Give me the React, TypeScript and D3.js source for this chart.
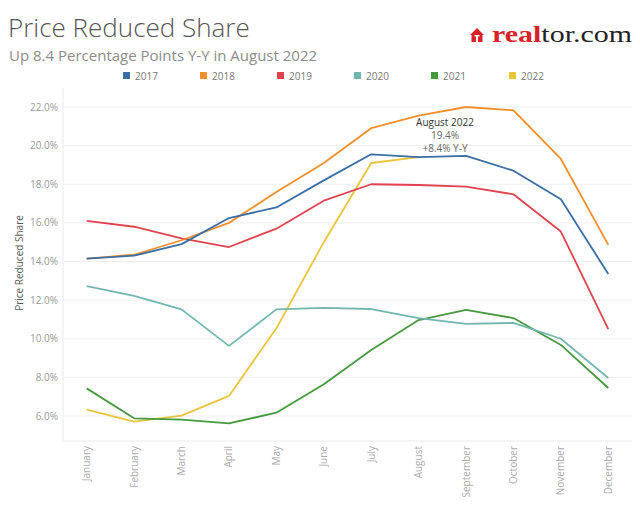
import React from "react";
import * as d3 from "d3";

const months = ["January","February","March","April","May","June","July","August","September","October","November","December"];
const years = ["2017","2018","2019","2020","2021","2022"];
const colors = ["#3a6ea5","#f28e2b","#e0434f","#72b6b0","#46993f","#e9c53b"];
const v2017 = [14.15,14.3,14.9,16.25,16.8,18.2,19.55,19.4,19.47,18.7,17.22,13.35];
const v2018 = [14.15,14.35,15.1,16.0,17.6,19.1,20.9,21.55,22.0,21.83,19.31,14.86];
const v2019 = [16.1,15.8,15.2,14.75,15.7,17.15,18.0,17.96,17.88,17.48,15.55,10.5];
const v2020 = [12.72,12.22,11.52,9.63,11.52,11.6,11.54,11.07,10.77,10.82,10.0,7.97];
const v2021 = [7.43,5.88,5.81,5.62,6.17,7.64,9.42,10.97,11.49,11.07,9.68,7.45];
const v2022 = [6.33,5.71,6.02,7.04,10.54,15.0,19.1,19.4];
const series = [v2017,v2018,v2019,v2020,v2021,v2022];
const yTicks = [6,8,10,12,14,16,18,20,22];
const annotation = ["August 2022","19.4%","+8.4% Y-Y"];

const W = 640, H = 512;
const left = 63, right = 632, top = 88, bottom = 441;

export default function App() {
  const x = d3.scalePoint<string>().domain(months).range([left, right]).padding(0.5);
  const y = d3.scaleLinear().domain([6, 22]).range([416, 107]);
  const line = d3.line<number>().x((_, i) => x(months[i])!).y(d => y(d));
  const font = "'Open Sans', 'Noto Sans', sans-serif";
  const legendX = [123, 200, 277, 354, 431, 509];
  const order = [5, 4, 3, 2, 1, 0];
  return (
    <svg width={W} height={H} style={{ position: "absolute", left: 0, top: 0, background: "#fff" }} fontFamily={font}>
      <rect x={0} y={0} width={W} height={H} fill="#fff" />
      <text x={8} y={37} fontSize={26} fill="#555" fontWeight={300}>Price Reduced Share</text>
      <text x={9} y={61} fontSize={15} fill="#8c8c8c">Up 8.4 Percentage Points Y-Y in August 2022</text>
      {/* logo */}
      <g transform="translate(470,28)">
        <path d="M0,7 L7,0 L14,7 L12.5,7 L12.5,14 L1.5,14 L1.5,7 Z" fill="#d92228" />
        <path d="M4.5,7 L9.5,7 L9.5,8.5 L8,8.5 L8,14 L6,14 L6,8.5 L4.5,8.5 Z" fill="#fff" />
      </g>
      <text x={492} y={42} fontSize={24} fontWeight={700} fontFamily="'Liberation Serif', 'DejaVu Serif', serif"
        textLength={140} lengthAdjust="spacingAndGlyphs">
        <tspan fill="#d92228">real</tspan><tspan fill="#222" fontWeight={400}>tor.com</tspan>
      </text>
      {years.map((yr, i) => (
        <g key={yr}>
          <rect x={legendX[i]} y={72} width={7} height={7} fill={colors[i]} />
          <text x={legendX[i] + 12} y={79.5} fontSize={10} fill="#777">{yr}</text>
        </g>
      ))}
      {yTicks.map(t => (
        <g key={t}>
          <line x1={left} x2={right} y1={y(t)} y2={y(t)} stroke="#efefef" strokeWidth={1} />
          <text x={58} y={y(t) + 3.5} fontSize={10} fill="#999" textAnchor="end">{t.toFixed(1)}%</text>
        </g>
      ))}
      <line x1={left} x2={left} y1={top} y2={bottom} stroke="#eaeaea" />
      <line x1={left} x2={right} y1={bottom} y2={bottom} stroke="#eaeaea" />
      <text transform={`translate(23,263) rotate(-90)`} fontSize={10} fill="#555" textAnchor="middle">Price Reduced Share</text>
      {months.map(m => (
        <text key={m} transform={`translate(${x(m)! + 3.5},446) rotate(-90)`} fontSize={10} fill="#aaa" textAnchor="end">{m}</text>
      ))}
      {order.map(i => (
        <path key={i} d={line(series[i])!} fill="none" stroke={colors[i]} strokeWidth={1.8} strokeLinejoin="round" />
      ))}
      <text x={445} y={126} fontSize={10} fill="#333" textAnchor="middle">{annotation[0]}</text>
      <text x={445} y={139} fontSize={10} fill="#666" textAnchor="middle">{annotation[1]}</text>
      <text x={445} y={152} fontSize={10} fill="#666" textAnchor="middle">{annotation[2]}</text>
    </svg>
  );
}
